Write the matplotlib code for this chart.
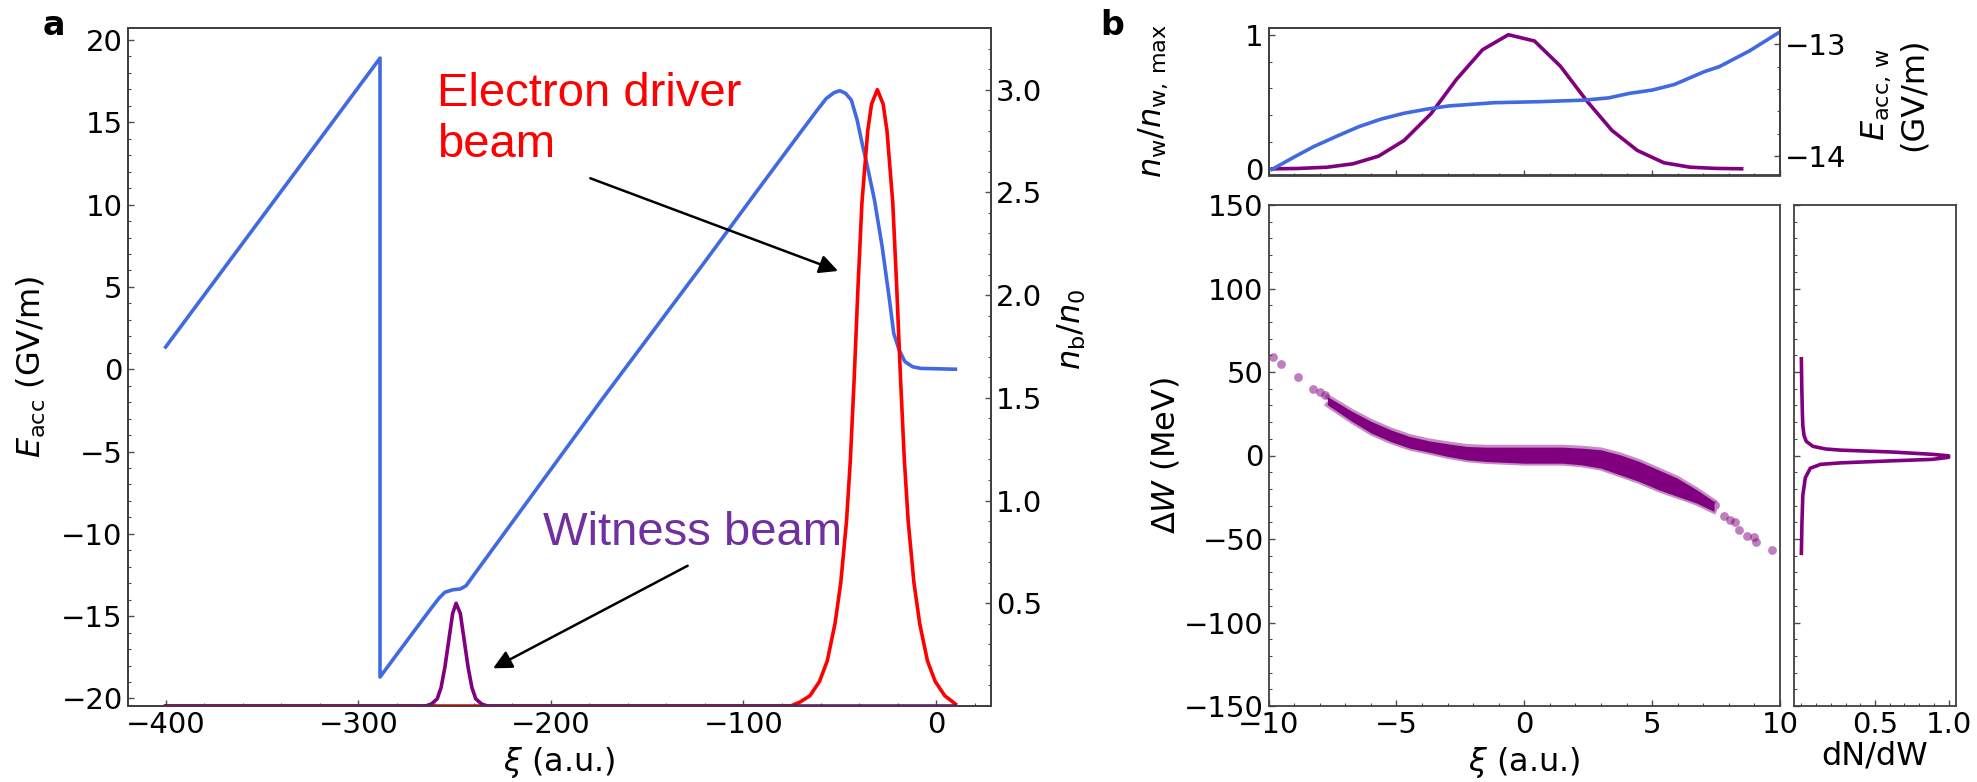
import matplotlib
matplotlib.use('Agg')
import matplotlib.pyplot as plt
from matplotlib.ticker import MultipleLocator

# ---------------- panel a : on-axis field and beam densities ----------------
xi_field = [-400, -288.7, -288.7, -270, -262, -258, -255, -251, -247, -244, -240,
            -173.7, -121.5, -90, -70, -62, -57, -53, -50, -47, -44, -41, -38,
            -36, -32, -28, -24.2, -22, -19.2, -16.2, -12.2, -8, 10]
e_field = [1.35, 18.9, -18.7, -15.75, -14.5, -13.9, -13.55, -13.4, -13.35, -13.15, -12.5,
           -1.87, 6.3, 11.3, 14.45, 15.7, 16.45, 16.8, 16.92, 16.76, 16.35, 15.14, 13.5,
           12.5, 10.28, 7.44, 4.2, 2.18, 1.17, 0.46, 0.15, 0.05, 0.0]

xi_driver = [-400, -80, -75.5, -70.5, -65.5, -60.5, -56.5, -52.5, -49.5, -46.5, -44.5,
             -42.5, -40.5, -38.5, -35.5, -33.5, -30.5, -27.5, -25.5, -22.5, -20.5,
             -18.5, -16.5, -14.5, -11.5, -8.5, -4.5, -0.5, 4.5, 10]
n_driver = [0, 0, 0.0, 0.02, 0.05, 0.12, 0.22, 0.4, 0.6, 0.9, 1.2,
            1.6, 2.05, 2.45, 2.8, 2.93, 3.0, 2.93, 2.8, 2.45, 2.05,
            1.6, 1.2, 0.9, 0.6, 0.4, 0.22, 0.12, 0.05, 0.01]

xi_witness = [-400, -265, -262, -259, -257, -255, -253, -251, -249.2, -247, -245,
              -243, -241, -239, -236, -233, 10]
n_witness = [0, 0, 0.01, 0.035, 0.09, 0.19, 0.32, 0.45, 0.5, 0.45, 0.32,
             0.19, 0.09, 0.035, 0.01, 0, 0]

# ---------------- panel b : witness beam phase space ----------------
xi_bins = [-9.85, -8.9, -7.7, -6.7, -5.7, -4.7, -3.65, -2.65, -1.63, -0.62, 0.4,
           1.41, 2.43, 3.43, 4.42, 5.46, 6.48, 7.49, 8.5]
n_w = [0.0, 0.002, 0.012, 0.037, 0.094, 0.211, 0.41, 0.667, 0.888, 1.0, 0.953,
       0.766, 0.51, 0.286, 0.137, 0.045, 0.012, 0.003, 0.0]

xi_ew = [-9.86, -9.0, -8.24, -7.3, -6.47, -5.6, -4.71, -3.8, -2.95, -1.18, 0.58,
         2.34, 3.3, 4.10, 5.0, 5.87, 7.04, 7.63, 8.8, 9.92]
e_w = [-14.12, -14.01, -13.917, -13.82, -13.738, -13.67, -13.618, -13.58, -13.552,
       -13.523, -13.514, -13.50, -13.48, -13.44, -13.41, -13.36, -13.245, -13.20,
       -13.06, -12.90]

xi_band = [-7.70, -6.73, -5.98, -5.23, -4.48, -3.73, -2.98, -2.24, -1.49, 0.01, 1.50,
           2.25, 3.00, 3.75, 4.50, 5.25, 5.99, 6.74, 7.42]
dw_upper = [35.3, 26.4, 20.4, 15.4, 11.4, 8.8, 7.0, 5.4, 5.0, 5.0, 5.0,
            4.4, 3.4, 0.4, -3.6, -8.6, -13.6, -20.5, -27.5]
dw_lower = [30.4, 20.4, 13.4, 8.4, 4.4, 2.0, -0.6, -2.6, -3.6, -4.6, -4.6,
            -5.6, -7.6, -11.6, -15.6, -20.5, -24.5, -28.5, -33.5]

xi_sparse = [-9.82, -9.53, -8.83, -8.27, -8.0, -7.8, 7.46, 7.82, 8.04, 8.24, 8.39,
             8.72, 8.98, 9.05, 9.70]
dw_sparse = [58.9, 54.7, 47.1, 39.9, 38.0, 36.3, -29.7, -36.5, -38.5, -39.9, -44.9,
             -48.5, -48.9, -51.5, -56.5]

w_spec = [57.9, 40, 25, 17.7, 12, 8.5, 5.5, 3.9, 3.2, 2.1, 0.7, -0.2, -1.1, -2.3,
          -3.2, -4.4, -5.3, -7.6, -13.3, -23.7, -40, -58.6]
dndw = [0.0, 0.003, 0.007, 0.01, 0.018, 0.033, 0.078, 0.165, 0.268, 0.613, 0.889, 1.0,
        1.0, 0.889, 0.613, 0.268, 0.13, 0.061, 0.027, 0.01, 0.004, 0.0]

blue = '#4169E1'
purple = '#800080'
TICK = 21
LAB = 23

plt.rcParams['font.family'] = 'DejaVu Sans'
plt.rcParams['mathtext.fontset'] = 'dejavusans'

W, H = 1977, 782
fig = plt.figure(figsize=(W / 100, H / 100), dpi=100)


def box(x0, x1, y0, y1):
    return [x0 / W, 1 - y1 / H, (x1 - x0) / W, (y1 - y0) / H]


def style(ax):
    ax.tick_params(which='both', direction='in', labelsize=TICK, color='0.3')
    ax.tick_params(which='major', length=4.5, width=1)
    ax.tick_params(which='minor', length=2.5, width=0.8)
    for s in ax.spines.values():
        s.set_color('0.25')
        s.set_linewidth(1.3)


# ---- panel a ----
ax = fig.add_axes(box(127.5, 991, 28, 706))
ax.plot(xi_field, e_field, color=blue, lw=2.6)
ax.set_xlim(-419.8, 28.5)
ax.set_ylim(-20.46, 20.73)
ax.xaxis.set_major_locator(MultipleLocator(100))
ax.xaxis.set_minor_locator(MultipleLocator(20))
ax.yaxis.set_major_locator(MultipleLocator(5))
ax.yaxis.set_minor_locator(MultipleLocator(1))
style(ax)
ax.set_xlabel(r'$\xi$ (a.u.)', fontsize=LAB)
ax.set_ylabel(r'$E_{\rm acc}$ (GV/m)', fontsize=LAB)
ax.yaxis.set_label_coords(-0.092, 0.5)
ax.xaxis.set_label_coords(0.5, -0.058)

axr = ax.twinx()
axr.plot(xi_driver, n_driver, color='red', lw=2.6)
axr.plot(xi_witness, n_witness, color=purple, lw=2.6)
axr.set_ylim(0, 3.3)
axr.set_yticks([0.5, 1.0, 1.5, 2.0, 2.5, 3.0])
axr.yaxis.set_minor_locator(MultipleLocator(0.1))
style(axr)
axr.set_ylabel(r'$n_{\rm b}/n_0$', fontsize=LAB)
axr.yaxis.set_label_coords(1.075, 0.555)

ax.text(-259, 12.9, 'Electron driver\nbeam', color='red', fontsize=34,
        family='Liberation Sans', va='baseline', ha='left', linespacing=1.2)
ax.text(-204, -10.68, 'Witness beam', color='#7030A0', fontsize=34,
        family='Liberation Sans', va='baseline', ha='left')
arrow = dict(arrowstyle='-|>', color='k', lw=1.8, mutation_scale=28,
             shrinkA=0, shrinkB=0)
ax.annotate('', xy=(-50.9, 5.97), xytext=(-179.5, 11.6), arrowprops=arrow)
ax.annotate('', xy=(-230, -18.17), xytext=(-129, -11.94), arrowprops=arrow)

# ---- panel b, top ----
axt = fig.add_axes(box(1268.5, 1780, 28, 175.5))
axt.plot(xi_bins, n_w, color=purple, lw=2.6)
axt.set_xlim(-10, 10)
axt.set_ylim(-0.05, 1.05)
axt.set_yticks([0, 1])
axt.yaxis.set_minor_locator(MultipleLocator(0.2))
axt.xaxis.set_major_locator(MultipleLocator(5))
axt.xaxis.set_minor_locator(MultipleLocator(1))
axt.tick_params(labelbottom=False)
style(axt)
axt.set_ylabel(r'$n_{\rm w}/n_{\rm w,\,max}$', fontsize=LAB)
axt.yaxis.set_label_coords(-0.1926, 0.505)

axtr = axt.twinx()
axtr.plot(xi_ew, e_w, color=blue, lw=2.6)
axtr.set_ylim(-14.175, -12.854)
axtr.set_yticks([-14, -13])
axtr.yaxis.set_minor_locator(MultipleLocator(0.2))
style(axtr)
axtr.set_ylabel('$E_{\\rm acc,\\,w}$\n(GV/m)', fontsize=LAB)
axtr.yaxis.set_label_coords(1.156, 0.55)

# ---- panel b, phase space ----
axb = fig.add_axes(box(1268.5, 1780, 205, 706))
axb.fill_between(xi_band, dw_lower, dw_upper, color=purple, lw=0)
axb.plot(xi_band, dw_upper, color=purple, alpha=0.45, lw=3.5)
axb.plot(xi_band, dw_lower, color=purple, alpha=0.45, lw=3.5)
axb.scatter(xi_sparse, dw_sparse, s=40, color=purple, alpha=0.5, lw=0)
axb.set_xlim(-10, 10)
axb.set_ylim(-150, 150)
axb.xaxis.set_major_locator(MultipleLocator(5))
axb.xaxis.set_minor_locator(MultipleLocator(1))
axb.yaxis.set_major_locator(MultipleLocator(50))
axb.yaxis.set_minor_locator(MultipleLocator(10))
style(axb)
axb.set_xlabel(r'$\xi$ (a.u.)', fontsize=LAB)
axb.set_ylabel(r'$\Delta W$ (MeV)', fontsize=LAB)
axb.yaxis.set_label_coords(-0.17, 0.5)
axb.xaxis.set_label_coords(0.5, -0.078)

# ---- energy spectrum ----
axm = fig.add_axes(box(1794, 1956, 205, 706))
axm.plot(dndw, w_spec, color=purple, lw=2.6)
axm.set_xlim(-0.05, 1.05)
axm.set_ylim(-150, 150)
axm.set_xticks([0.5, 1.0])
axm.xaxis.set_minor_locator(MultipleLocator(0.1))
axm.yaxis.set_major_locator(MultipleLocator(50))
axm.yaxis.set_minor_locator(MultipleLocator(10))
axm.tick_params(labelleft=False)
style(axm)
axm.set_xlabel('dN/dW', fontsize=LAB)
axm.xaxis.set_label_coords(0.5, -0.068)

fig.text(43 / W, 1 - 35 / H, 'a', fontsize=24, weight='bold', va='baseline')
fig.text(1100 / W, 1 - 35 / H, 'b', fontsize=24, weight='bold', va='baseline')

fig.savefig('out.png', dpi=100)
